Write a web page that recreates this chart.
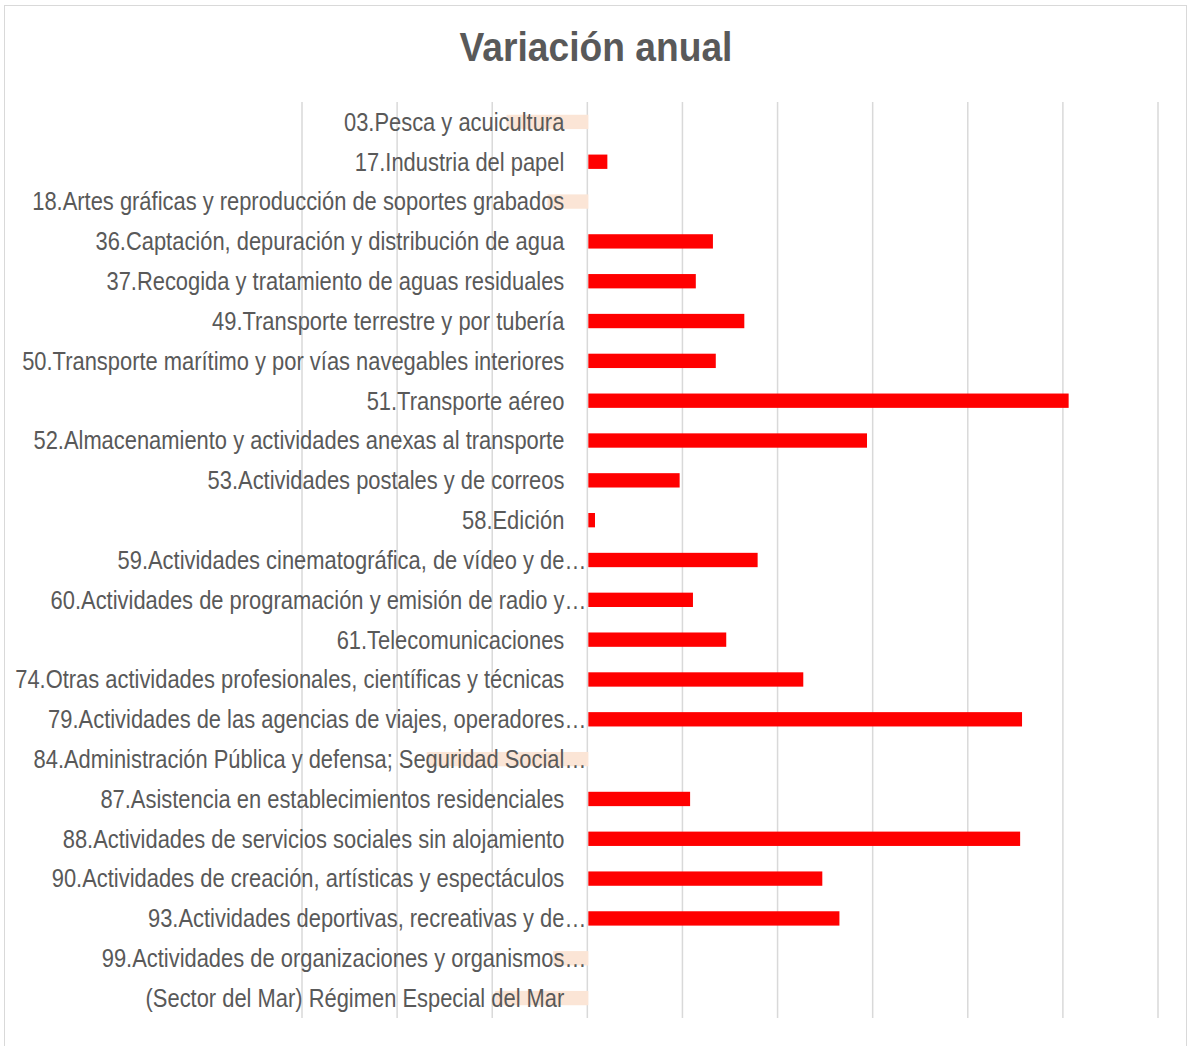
<!DOCTYPE html>
<html>
<head>
<meta charset="utf-8">
<script src="https://cdn.jsdelivr.net/npm/d3@7"></script>
<style>
  body { margin: 0; background: #fff; }
  .label { font-family: "Liberation Sans Narrow", "Arial Narrow", "Liberation Sans", sans-serif; fill: #595959; }
</style>
</head>
<body>
<div id="main-chart"></div>
<script>
// Sector labels, top to bottom
var categories = [
  "03.Pesca y acuicultura",
  "17.Industria del papel",
  "18.Artes gráficas y reproducción de soportes grabados",
  "36.Captación, depuración y distribución de agua",
  "37.Recogida y tratamiento de aguas residuales",
  "49.Transporte terrestre y por tubería",
  "50.Transporte marítimo y por vías navegables interiores",
  "51.Transporte aéreo",
  "52.Almacenamiento y actividades anexas al transporte",
  "53.Actividades postales y de correos",
  "58.Edición",
  "59.Actividades cinematográfica, de vídeo y de…",
  "60.Actividades de programación y emisión de radio y…",
  "61.Telecomunicaciones",
  "74.Otras actividades profesionales, científicas y técnicas",
  "79.Actividades de las agencias de viajes, operadores…",
  "84.Administración Pública y defensa; Seguridad Social…",
  "87.Asistencia en establecimientos residenciales",
  "88.Actividades de servicios sociales sin alojamiento",
  "90.Actividades de creación, artísticas y espectáculos",
  "93.Actividades deportivas, recreativas y de…",
  "99.Actividades de organizaciones y organismos…",
  "(Sector del Mar) Régimen Especial del Mar"
];

// Annual variation (%)
var values = [
  -8.6, 2.0, -4.3, 13.1, 11.3, 16.4, 13.4, 50.5, 29.3, 9.6, 0.7, 17.8,
  11.0, 14.5, 22.6, 45.6, -17.0, 10.7, 45.4, 24.6, 26.4, -3.7, -9.8
];

// Gridline values
var gridTicks = [-30, -20, -10, 0, 10, 20, 30, 40, 50, 60];

var width = 1189, height = 1046;
var margin = { top: 102, right: 31, bottom: 28, left: 302 };

// no narrow font installed, so squeeze the regular one
var narrow = 0.843;

var svg = d3
  .select("#main-chart")
  .append("svg")
  .attr("width", width)
  .attr("height", height);

// chart frame
svg
  .append("rect")
  .attr("x", 4.5)
  .attr("y", 5.5)
  .attr("width", 1182)
  .attr("height", 1060)
  .attr("fill", "#fff")
  .attr("stroke", "#d9d9d9")
  .attr("stroke-width", 1);

var xScale = d3
  .scaleLinear()
  .domain([-30, 60])
  .range([margin.left, width - margin.right]);

var yScale = d3
  .scaleBand()
  .domain(categories)
  .range([margin.top, height - margin.bottom])
  .paddingInner(0.64)
  .paddingOuter(0.32);

// vertical gridlines
svg
  .selectAll(".grid")
  .data(gridTicks)
  .enter()
  .append("line")
  .attr("class", "grid")
  .attr("x1", function(d) { return xScale(d); })
  .attr("x2", function(d) { return xScale(d); })
  .attr("y1", margin.top)
  .attr("y2", height - margin.bottom)
  .attr("stroke", "#d9d9d9")
  .attr("stroke-width", 1.5);

// bars; negatives are drawn pale, behind the labels
svg
  .selectAll(".bar")
  .data(values)
  .enter()
  .append("rect")
  .attr("class", "bar")
  .attr("x", function(d) { return xScale(Math.min(0, d)) + 1; })
  .attr("y", function(d, i) { return yScale(categories[i]); })
  .attr("width", function(d) { return Math.abs(xScale(d) - xScale(0)); })
  .attr("height", yScale.bandwidth())
  .attr("fill", function(d) { return d < 0 ? "#fbe5d6" : "#ff0000"; });

// category labels (truncated ones run up to the zero line)
svg
  .selectAll(".label")
  .data(categories)
  .enter()
  .append("text")
  .attr("class", "label")
  .attr("transform", function(d) {
    var x = d.slice(-1) === "…" ? xScale(0) - 1 : xScale(0) - 23;
    return "translate(" + x + "," + (yScale(d) + yScale.bandwidth() / 2) + ") scale(" + narrow + ",1)";
  })
  .attr("dy", "0.34em")
  .attr("text-anchor", "end")
  .style("font-size", "26px")
  .text(function(d) { return d; });

// title
svg
  .append("text")
  .attr("transform", "translate(596,61) scale(0.93,1)")
  .attr("text-anchor", "middle")
  .style("font-family", "'Liberation Sans Narrow', 'Arial Narrow', 'Liberation Sans', sans-serif")
  .style("font-weight", "bold")
  .style("font-size", "40px")
  .attr("fill", "#595959")
  .text("Variación anual");
</script>
</body>
</html>
